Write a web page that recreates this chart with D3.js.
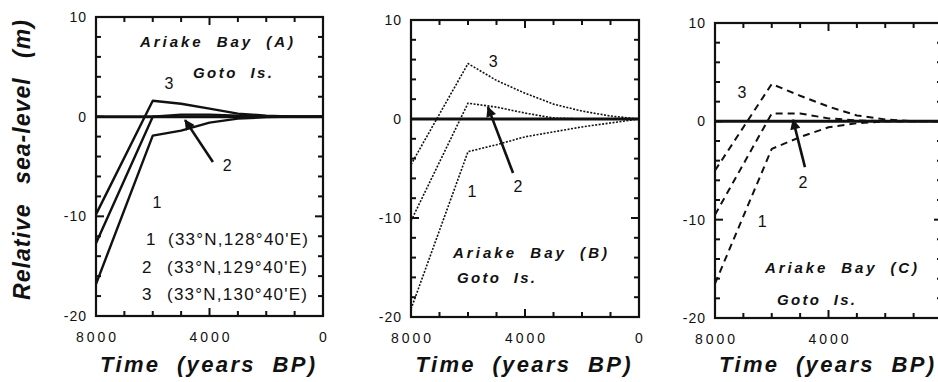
<!DOCTYPE html>
<html lang="en">
<head>
  <meta charset="utf-8">
  <title>Relative sea-level</title>
  <script src="https://d3js.org/d3.v7.min.js"></script>
  <style>
    body { margin: 0; background: #fff; }
    svg { display: block; }
    text { font-family: 'Liberation Sans', Arial, sans-serif; fill: #111; }
    .tick-label { font-size: 14px; letter-spacing: 1px; }
    .title { font-size: 22px; font-weight: bold; font-style: italic; }
    .note { font-size: 15px; font-weight: bold; font-style: italic; word-spacing: 6px; }
    .legend { font-size: 17px; }
    .num { font-size: 16px; }
  </style>
</head>
<body>
<div id="chart"></div>
<script>

// years BP of each vertex
var years = [8000, 6000, 5000, 4000, 3000, 2000, 1000, 0];

// panel A (solid)
var a1 = [-16.8, -1.9, -1.4, -0.6, -0.2, -0.05, 0, 0];
var a2 = [-12.7, 0.0, 0.2, 0.2, 0.1, 0, 0, 0];
var a3 = [-9.8, 1.6, 1.3, 0.8, 0.3, 0.1, 0, 0];

// panel B (dotted)
var b1 = [-19.2, -3.3, -2.6, -1.8, -1.3, -0.8, -0.4, 0];
var b2 = [-10.3, 1.6, 1.2, 0.6, 0.1, 0, 0, 0];
var b3 = [-4.6, 5.6, 3.9, 2.6, 1.5, 0.8, 0.3, 0];

// panel C (dashed)
var c1 = [-16.5, -2.8, -1.6, -0.6, -0.2, 0, 0, 0];
var c2 = [-9.5, 0.8, 0.8, 0.3, 0.1, 0, 0, 0];
var c3 = [-5.0, 3.8, 2.6, 1.5, 0.6, 0.2, 0, 0];

var xTicks = [8000, 4000, 0];
var yTicks = [10, 0, -10, -20];
var legendNums = ['1', '2', '3'];
var legendCoords = ["(33°N,128°40'E)", "(33°N,129°40'E)", "(33°N,130°40'E)"];

var W = 938, H = 382;
var svg = d3.select('#chart').append('svg').attr('width', W).attr('height', H);

svg.append('defs').append('marker')
  .attr('id', 'arrow')
  .attr('viewBox', '0 0 10 10')
  .attr('refX', 9).attr('refY', 5)
  .attr('markerWidth', 5).attr('markerHeight', 4)
  .attr('markerUnits', 'strokeWidth')
  .attr('orient', 'auto')
  .append('path')
  .attr('d', 'M0,0 L10,5 L0,10 Z')
  .attr('fill', '#111');

var panels = [
  { left: 96, right: 323, top: 17, bottom: 316, series: [a1, a2, a3], dash: null, width: 2.4,
    labels: [[5850, -8.6], [3380, -4.85], [5430, 3.4]],
    arrow: [[3880, -4.55], [4860, -0.35]],
    notes: [{ x: 140, y: 47, w: 153, t: 'Ariake Bay (A)' }, { x: 193, y: 78, w: 79, t: 'Goto Is.' }],
    legend: true },
  { left: 411, right: 639, top: 20, bottom: 317, series: [b1, b2, b3], dash: '2,1.5', width: 1.6,
    labels: [[5860, -7.3], [4250, -6.8], [5120, 5.8]],
    arrow: [[4420, -5.45], [5300, 1.2]],
    notes: [{ x: 453, y: 258, w: 154, t: 'Ariake Bay (B)' }, { x: 457, y: 283, w: 78, t: 'Goto Is.' }],
    legend: false },
  { left: 715, right: 942, top: 23, bottom: 318, series: [c1, c2, c3], dash: '7,5', width: 2,
    labels: [[6340, -10.2], [4900, -6.2], [7050, 3.0]],
    arrow: [[4830, -4.65], [5250, 0.15]],
    notes: [{ x: 765, y: 273, w: 152, t: 'Ariake Bay (C)' }, { x: 777, y: 305, w: 78, t: 'Goto Is.' }],
    legend: false }
];

panels.forEach(function(p) {

  var x = d3.scaleLinear().domain([8000, 0]).range([p.left, p.right]);
  var y = d3.scaleLinear().domain([-20, 10]).range([p.bottom, p.top]);
  var g = svg.append('g');

  // inward ticks on all four sides
  var xt = d3.range(7000, 0, -1000);
  var yt = d3.range(-18, 10, 2);
  var xLen = function(d) { return d % 4000 == 0 ? 8 : 5; };
  var yLen = function(d) { return d % 10 == 0 ? 8 : 5; };

  [[p.bottom, -1], [p.top, 1]].forEach(function(side) {
    g.selectAll(null).data(xt).enter().append('line')
      .attr('x1', function(d) { return x(d); }).attr('x2', function(d) { return x(d); })
      .attr('y1', side[0]).attr('y2', function(d) { return side[0] + side[1] * xLen(d); })
      .attr('stroke', '#111').attr('stroke-width', 2);
  });
  [[p.left, 1], [p.right, -1]].forEach(function(side) {
    g.selectAll(null).data(yt).enter().append('line')
      .attr('y1', function(d) { return y(d); }).attr('y2', function(d) { return y(d); })
      .attr('x1', side[0]).attr('x2', function(d) { return side[0] + side[1] * yLen(d); })
      .attr('stroke', '#111').attr('stroke-width', 2);
  });

  // frame
  g.append('rect')
    .attr('x', p.left).attr('y', p.top)
    .attr('width', p.right - p.left).attr('height', p.bottom - p.top)
    .attr('fill', 'none').attr('stroke', '#111').attr('stroke-width', 2.2);

  // tick labels
  g.selectAll(null).data(xTicks).enter().append('text')
    .attr('class', 'tick-label')
    .attr('x', function(d) { return x(d) + 1.5; })
    .attr('y', p.bottom + 26)
    .attr('text-anchor', 'middle')
    .style('letter-spacing', '3px')
    .text(function(d) { return d; });
  g.selectAll(null).data(yTicks).enter().append('text')
    .attr('class', 'tick-label')
    .attr('x', p.left - 9)
    .attr('y', function(d) { return y(d) + 5; })
    .attr('text-anchor', 'end')
    .text(function(d) { return d; });

  // zero line
  g.append('line')
    .attr('x1', x(8000)).attr('x2', x(0)).attr('y1', y(0)).attr('y2', y(0))
    .attr('stroke', '#111').attr('stroke-width', 3);

  var line = d3.line().x(function(d, i) { return x(years[i]); }).y(function(d) { return y(d); });

  p.series.forEach(function(s) {
    g.append('path')
      .datum(s)
      .attr('d', line)
      .attr('fill', 'none')
      .attr('stroke', '#111')
      .attr('stroke-width', p.width)
      .attr('stroke-dasharray', p.dash)
      .attr('stroke-linejoin', 'round');
  });

  // curve numbers
  p.labels.forEach(function(l, i) {
    g.append('text').attr('class', 'num')
      .attr('x', x(l[0])).attr('y', y(l[1]))
      .attr('dy', '0.36em')
      .attr('text-anchor', 'middle')
      .text(i + 1);
  });

  // arrow pointing to curve 2
  g.append('line')
    .attr('x1', x(p.arrow[0][0])).attr('y1', y(p.arrow[0][1]))
    .attr('x2', x(p.arrow[1][0])).attr('y2', y(p.arrow[1][1]))
    .attr('stroke', '#111').attr('stroke-width', 2.6)
    .attr('marker-end', 'url(#arrow)');

  // place names
  p.notes.forEach(function(n) {
    g.append('text').attr('class', 'note')
      .attr('x', n.x).attr('y', n.y)
      .attr('textLength', n.w).attr('lengthAdjust', 'spacing')
      .text(n.t);
  });

  if (p.legend) {
    g.selectAll(null).data(legendNums).enter().append('text')
      .attr('class', 'legend')
      .attr('x', function(d, i) { return i == 0 ? 146 : 142; })
      .attr('y', function(d, i) { return 245 + i * 27.5; })
      .text(function(d) { return d; });
    g.selectAll(null).data(legendCoords).enter().append('text')
      .attr('class', 'legend')
      .attr('x', function(d, i) { return i == 0 ? 168 : 167; })
      .attr('y', function(d, i) { return 245 + i * 27.5; })
      .attr('textLength', 140).attr('lengthAdjust', 'spacing')
      .text(function(d) { return d; });
  }

  // x axis title
  g.append('text').attr('class', 'title')
    .attr('x', (p.left + p.right) / 2 - 2)
    .attr('y', 372)
    .attr('text-anchor', 'middle')
    .style('word-spacing', '8px')
    .attr('textLength', 215).attr('lengthAdjust', 'spacing')
    .text('Time (years BP)');
});

// y axis title
svg.append('text').attr('class', 'title')
  .attr('transform', 'translate(30,160) rotate(-90)')
  .attr('text-anchor', 'middle')
  .style('font-size', '23px')
  .style('word-spacing', '12px')
  .attr('textLength', 280).attr('lengthAdjust', 'spacing')
  .text('Relative sea-level (m)');

</script>
</body>
</html>
